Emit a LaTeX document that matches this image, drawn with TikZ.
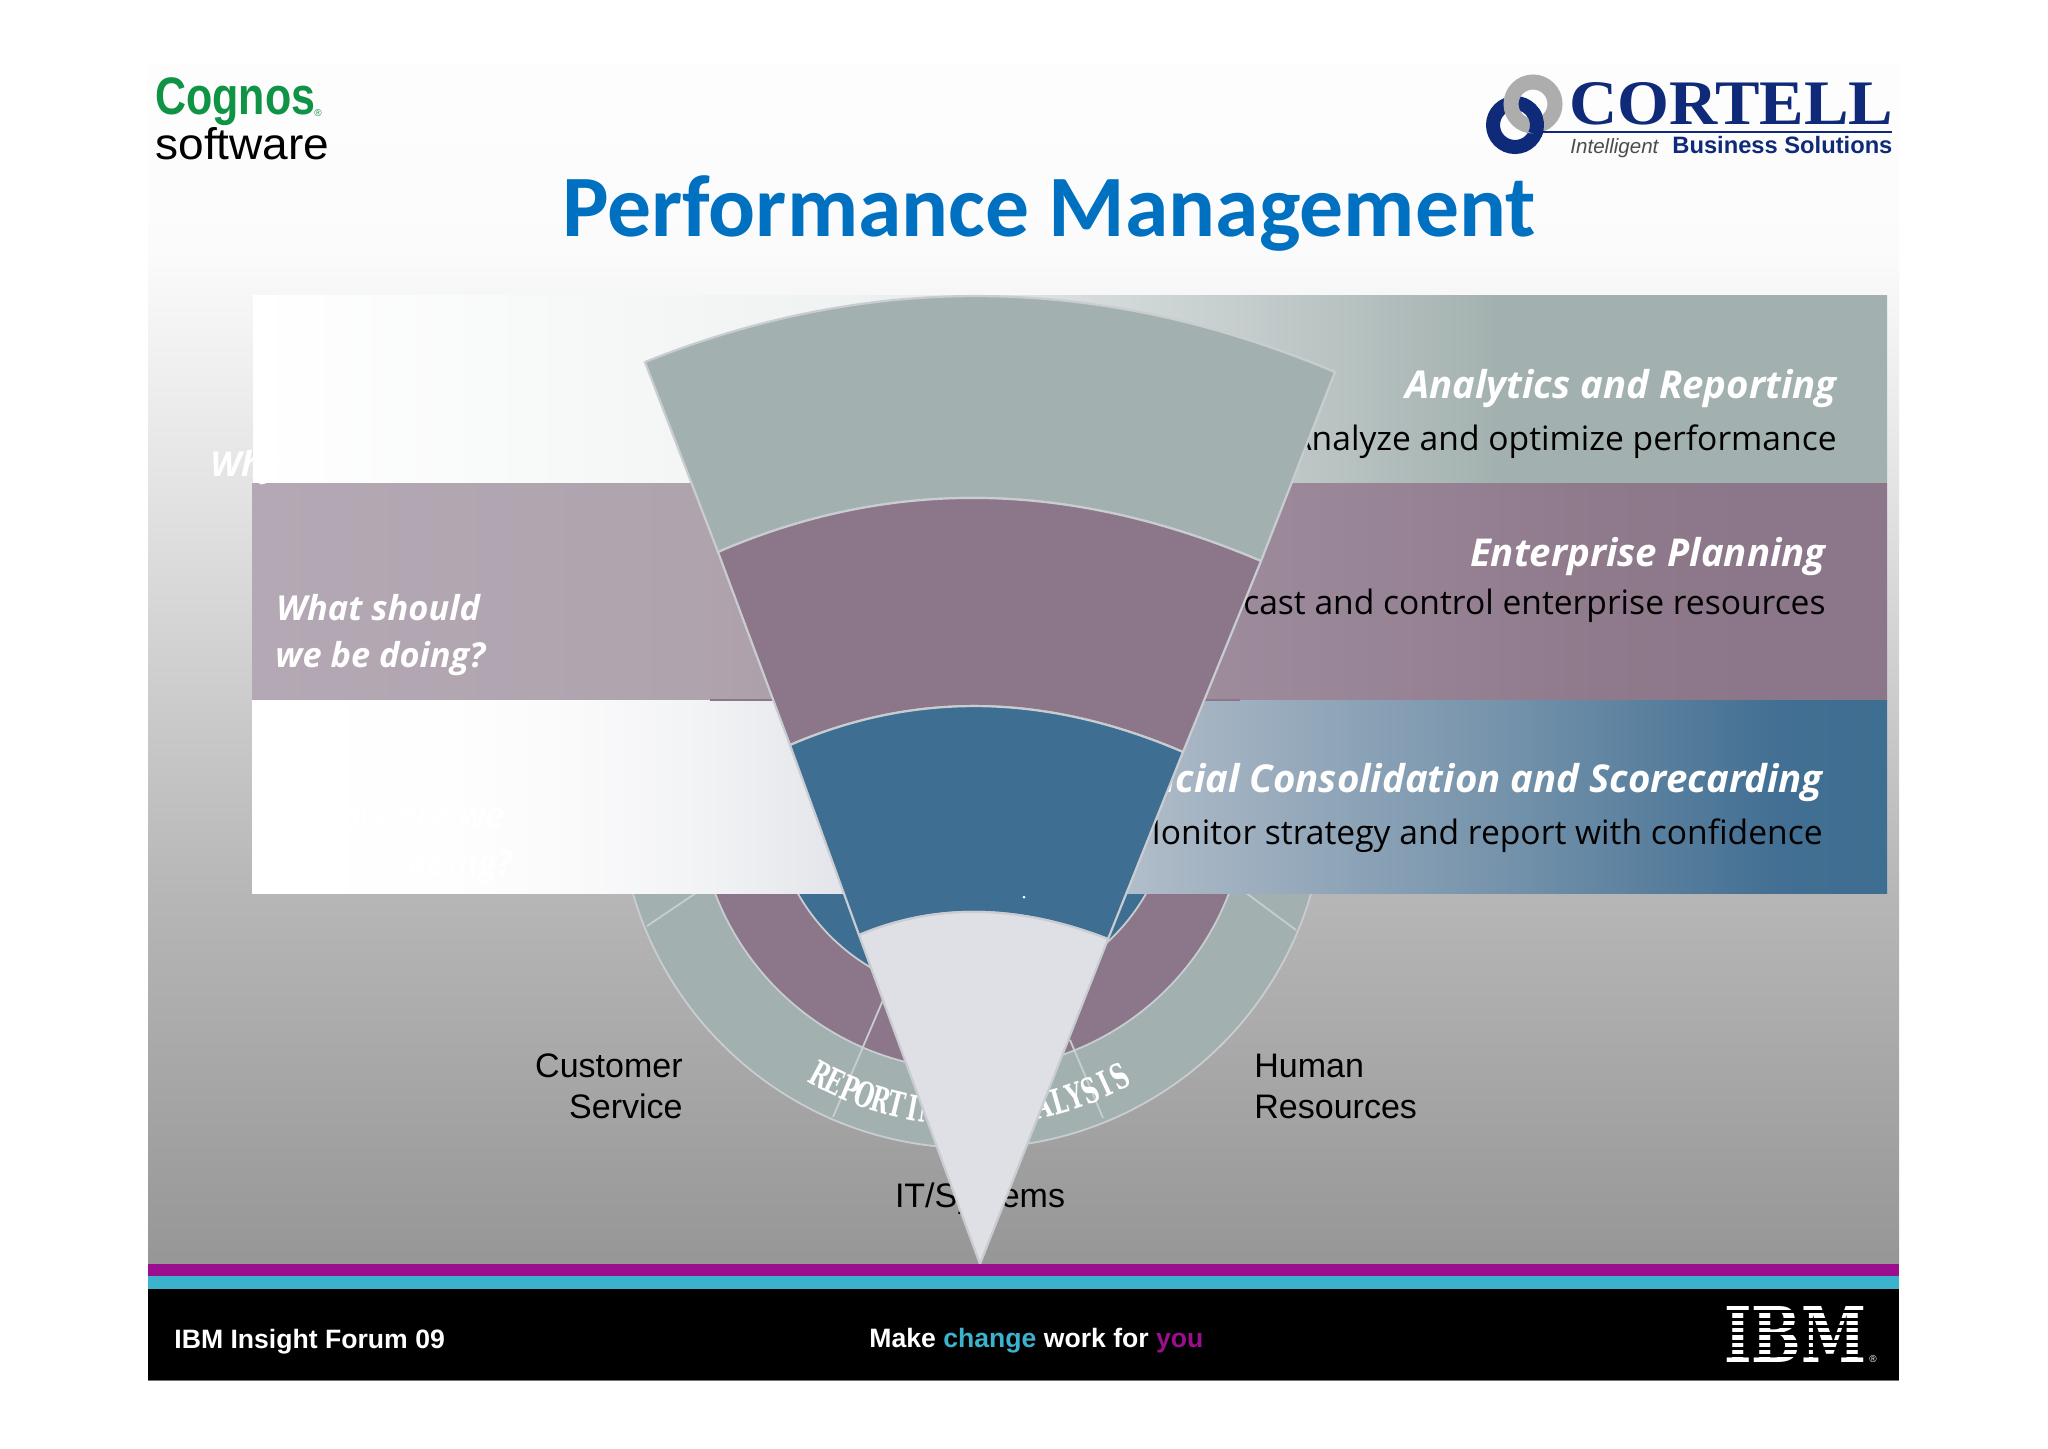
\documentclass[tikz,border=0pt]{standalone}
\usepackage{fontspec}
\usepackage{graphicx}
\setmainfont{Liberation Sans}
\newfontfamily\fOpen{Open Sans}
\newfontfamily\fCarlito{Carlito}
\newfontfamily\fArial{Liberation Sans}
\newfontfamily\fSerif{Liberation Serif}
\newfontfamily\fDeja{DejaVu Serif}
\definecolor{teal1}{HTML}{A2B1AF}
\definecolor{mauve1}{HTML}{8C7689}
\definecolor{blue1}{HTML}{3E6E91}
\definecolor{light1}{HTML}{DFDFE6}
\definecolor{edge1}{HTML}{C9CCD0}
\definecolor{navy1}{HTML}{0F2A78}
\definecolor{cognosgreen}{HTML}{0E9444}
\definecolor{brandpurple}{HTML}{9B0E8E}
\definecolor{brandteal}{HTML}{3BB3CC}
\pgfdeclareverticalshading{slidebg}{100bp}{
 color(0bp)=(black!37.5!white); color(25bp)=(black!41!white); color(40.4bp)=(black!28.5!white);
 color(57.7bp)=(black!10.5!white); color(67.3bp)=(black!1.5!white); color(75bp)=(black!0.6!white); color(100bp)=(black!0.6!white)}
\pgfdeclarehorizontalshading{bandA}{100bp}{
 color(0bp)=(white); color(25bp)=(white); rgb(43.3bp)=(0.94,0.95,0.95); rgb(55.2bp)=(0.773,0.804,0.804);
 color(63.2bp)=(teal1); color(100bp)=(teal1)}
\pgfdeclarehorizontalshading{bandB}{100bp}{
 rgb(0bp)=(0.706,0.659,0.706); rgb(25bp)=(0.706,0.659,0.706); rgb(38.7bp)=(0.686,0.639,0.682);
 rgb(55.5bp)=(0.612,0.541,0.608); rgb(66.2bp)=(0.561,0.478,0.549); color(70.8bp)=(mauve1); color(100bp)=(mauve1)}
\pgfdeclarehorizontalshading{bandC}{100bp}{
 rgb(0bp)=(1,1,1); rgb(25bp)=(1,1,1); rgb(31bp)=(0.996,0.996,0.996); rgb(35bp)=(0.98,0.98,0.985); rgb(38.7bp)=(0.949,0.953,0.961);
 rgb(43bp)=(0.89,0.898,0.918); rgb(53.4bp)=(0.659,0.714,0.769); rgb(63.2bp)=(0.459,0.576,0.671);
 rgb(71.7bp)=(0.259,0.435,0.576); color(75bp)=(blue1); color(100bp)=(blue1)}
\tikzset{
 bandhead/.style={anchor=base east,inner sep=0pt,text=white,font=\fOpen\bfseries\itshape\fontsize{19.2}{22}\selectfont},
 bandbody/.style={anchor=base east,inner sep=0pt,text=black,font=\fOpen\fontsize{16.8}{20}\selectfont},
 sideq/.style={inner sep=0pt,text=white,font=\fOpen\bfseries\itshape\fontsize{17.2}{20}\selectfont},
 funclabel/.style={inner sep=0pt,text=black,font=\fArial\fontsize{17}{20}\selectfont},
 footlabel/.style={anchor=base west,inner sep=0pt,text=white,font=\fArial\bfseries\fontsize{13.3}{16}\selectfont},
 wedgepart/.style={draw=edge1,line width=1.1pt,line join=round},
 ringline/.style={draw=edge1,line width=0.9pt},
 wordletter/.style={inner sep=0pt,text=white,font=\fDeja\bfseries\fontsize{14}{17}\selectfont}
}
\begin{document}
\begin{tikzpicture}[x=0.5pt,y=-0.5pt]
\useasboundingbox (0,0) rectangle (2048,1448);
\fill[white] (0,0) rectangle (2048,1448);
% slide
\shade[shading=slidebg] (148,65) rectangle (1899,1263);
% rings
\filldraw[ringline,fill=teal1] (972,795) circle[radius=353];
\filldraw[ringline,fill=mauve1] (972,795) circle[radius=275];
\filldraw[ringline,fill=blue1] (972,795) circle[radius=200];
\draw[ringline] (647,926) -- (730,870);
\draw[ringline] (1296,930) -- (1215,870);
\draw[ringline] (833,1117) -- (883,1000);
\draw[ringline] (1103,1118) -- (1070,1040);
% curved word art
\foreach \ch [count=\i from 0] in {R,E,P,O,R,T,I,N,G,{},\&,{},A,N,A,L,Y,S,I,S}{
  \pgfmathsetmacro{\ang}{118.5-\i*2.96}
  \node[wordletter,rotate=90-\ang] (wa\i) at ({972+318*cos(\ang)},{795+318*sin(\ang)}) {\scalebox{0.8}[1.25]{\ch}};
}
% function labels
\node[funclabel,anchor=base east] (cust1) at (683,1077) {Customer};
\node[funclabel,anchor=base east] (cust2) at (683,1118) {Service};
\node[funclabel,anchor=base west] (hum1) at (1254,1077) {Human};
\node[funclabel,anchor=base west] (hum2) at (1254,1118) {Resources};
\node[funclabel,anchor=base] (its) at (980,1207) {IT/Systems};
% bands
\shade[shading=bandA] (253,295) rectangle (1887,483);
\shade[shading=bandB] (252,483) rectangle (1887,700);
\shade[shading=bandC] (252,700) rectangle (1887,893);
\draw[line width=1pt,color=mauve1] (710,699.5) -- (780,699.5);
\draw[line width=1pt,color=mauve1] (1204,699.5) -- (1240,699.5);
% band text
\node[bandhead] (h1) at (1837,398) {Analytics and Reporting};
\node[bandbody] (b1) at (1837,450) {Analyze and optimize performance};
\node[bandhead] (h2) at (1826,566) {Enterprise Planning};
\node[bandbody] (b2) at (1826,614) {Forecast and control enterprise resources};
\node[bandhead] (h3) at (1823,792) {Financial Consolidation and Scorecarding};
\node[bandbody] (b3) at (1823,844) {Monitor strategy and report with confidence};
\node[sideq,anchor=base west] (why) at (210,476) {Why?};
\node[sideq,anchor=base west] (q1) at (276,620) {What should};
\node[sideq,anchor=base west] (q2) at (275,667) {we be doing?};
\node[sideq,anchor=base east] (q3) at (505,827) {How are we};
\node[sideq,anchor=base east] (q4) at (513,875) {doing?};
% wedge
\filldraw[wedgepart,fill=teal1] (645,362) .. controls (872,271) and (1102,274) .. (1335,372)
  -- (1261,561) .. controls (1071,480) and (891,477) .. (718,552) -- cycle;
\filldraw[wedgepart,fill=mauve1] (718,552) .. controls (891,477) and (1071,480) .. (1261,561)
  -- (1183,752) .. controls (1046,693) and (915,691) .. (790,745) -- cycle;
\filldraw[wedgepart,fill=blue1] (790,745) .. controls (915,691) and (1046,693) .. (1183,752)
  -- (1108,939) .. controls (1018,904) and (935,903) .. (859,935) -- cycle;
\filldraw[wedgepart,fill=light1] (859,935) .. controls (935,903) and (1018,904) .. (1108,939)
  -- (980,1264) -- cycle;
\fill[white] (1024,897) circle[radius=1.5];
% footer
\fill[brandpurple] (148,1264) rectangle (1899,1276);
\fill[brandteal] (148,1276) rectangle (1899,1289);
\fill[black] (148,1289) rectangle (1899,1380);
\draw[line width=0.5pt,color=black!55] (148,1380.5) -- (1899,1380.5);
\node[footlabel] (forum) at (174,1348) {IBM Insight Forum 09};
\node[footlabel] (slogan) at (869,1347) {Make \textcolor{brandteal}{change} work for \textcolor{brandpurple}{you}};
% IBM logo
\node[anchor=center,inner sep=0pt,text=white,font=\fDeja\bfseries] (ibm) at (1795,1334) {\resizebox{71pt}{28pt}{IBM}};
\foreach \k in {0,...,6}{ \fill[black] (1720,{1310.3+\k*7.3}) rectangle (1870,{1313.3+\k*7.3}); }
\node[anchor=center,inner sep=0pt,text=white,font=\fArial\fontsize{5}{6}\selectfont] (ibmr) at (1873,1359) {\textregistered};
% Cognos logo
\node[anchor=base west,inner sep=0pt,text=cognosgreen,font=\fArial\bfseries] (cog) at (155,114) {\resizebox*{80pt}{24pt}{Cognos}};
\node[anchor=center,inner sep=0pt,text=cognosgreen,font=\fArial\fontsize{5}{6}\selectfont] (cogr) at (318,113) {\textregistered};
\node[anchor=base west,inner sep=0pt,text=black,font=\fArial] (soft) at (155,159) {\resizebox{87pt}{16pt}{software}};
% Cortell logo
\draw[navy1,line width=7pt] (1515,125) circle[radius=22];
\draw[color=black!32,line width=7.5pt] (1533,104) circle[radius=22];
\draw[navy1,line width=7pt] (1515,125) ++(-35:22) arc[start angle=-35,end angle=25,radius=22];
\draw[navy1,line width=1pt] (1543,132) -- (1892,132);
\node[anchor=base west,inner sep=0pt,text=navy1,font=\fSerif\bfseries] (cort) at (1569,124) {\resizebox{162pt}{21pt}{CORTELL}};
\node[anchor=base west,inner sep=0pt,text=black!70,font=\fArial\itshape] (intel) at (1570,153) {\resizebox{44pt}{!}{Intelligent}};
\node[anchor=base west,inner sep=0pt,text=navy1,font=\fArial\bfseries] (bus) at (1672,153) {\resizebox{110pt}{!}{Business Solutions}};
% title
\node[anchor=base,inner sep=0pt,text={rgb,255:red,0;green,112;blue,192},font=\fCarlito\bfseries\fontsize{43.8}{48}\selectfont] (title) at (1049,236) {Performance Management};
\end{tikzpicture}
\end{document}
